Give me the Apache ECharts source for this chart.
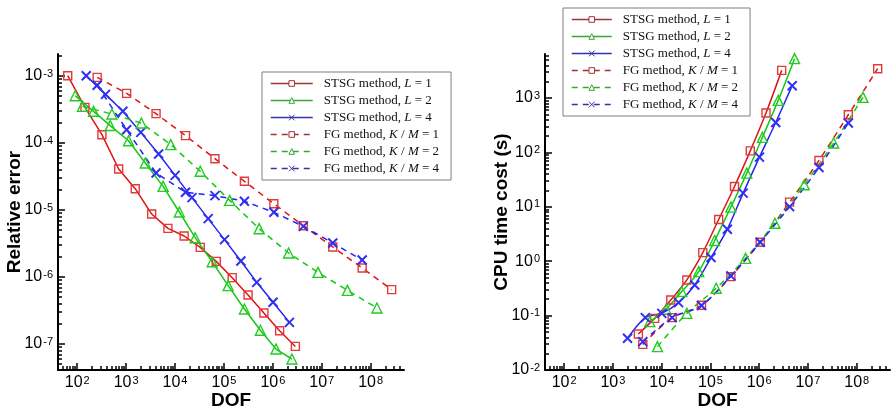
<!DOCTYPE html>
<html><head><meta charset="utf-8">
<script src="https://cdn.jsdelivr.net/npm/echarts@6/dist/echarts.min.js"></script>
<style>html,body{margin:0;padding:0;background:#fff}#c{width:891px;height:409px}</style>
</head><body><div id="c"></div>
<script>
// ---- data ----
const seriesNames = ['STSG method, L = 1','STSG method, L = 2','STSG method, L = 4','FG method, K / M = 1','FG method, K / M = 2','FG method, K / M = 4'];

const dofS1 = [64, 144, 320, 704, 1536, 3328, 7168, 15360, 32768, 69632, 147456, 311296, 655360, 1376256, 2883584];
const errS1 = [1.01e-3, 3.4e-4, 1.33e-4, 4.09e-5, 2.08e-5, 8.7e-6, 5.32e-6, 4.09e-6, 2.77e-6, 1.71e-6, 9.77e-7, 5.38e-7, 2.9e-7, 1.58e-7, 9.2e-8];
const timeS1 = [null, null, null, null, null, 0.046, 0.089, 0.194, 0.453, 1.44, 5.85, 23.7, 107, 530, 3230];

const dofS2 = [91, 216, 473, 1122, 2460, 5700, 12250, 25800, 57500, 122000, 262000, 556000, 1160000, 2450000, 5300000];
const errS2 = [5.08e-4, 2.97e-4, 1.82e-4, 1.08e-4, 5.03e-5, 2.25e-5, 9.33e-6, 3.86e-6, 1.69e-6, 7.43e-7, 3.33e-7, 1.6e-7, 8.4e-8, 5.97e-8, null];
const timeS2 = [null, null, null, null, null, 0.0776, 0.131, 0.277, 0.645, 2.40, 9.86, 41.7, 189, 906, 5300];

const dofS4 = [153, 379, 859, 1995, 4620, 10050, 22200, 47600, 102800, 222000, 468000, 1010000, 2180000, 4740000];
const errS4 = [1.01e-3, 5.32e-4, 2.97e-4, 1.44e-4, 6.85e-5, 3.29e-5, 1.53e-5, 7.43e-6, 3.61e-6, 1.73e-6, 8.32e-7, 4.19e-7, 2.1e-7, null];
const timeS4 = [null, null, null, 0.0383, 0.0918, 0.110, 0.173, 0.366, 1.17, 3.88, 17.9, 82, 356, 1690];

const dofF1 = [256, 1024, 4096, 16384, 65536, 262144, 1048576, 4194304, 16777216, 67108864, 268435456];
const errF1 = [9.55e-4, 5.51e-4, 2.74e-4, 1.29e-4, 5.83e-5, 2.68e-5, 1.24e-5, 5.83e-6, 2.81e-6, 1.36e-6, 6.47e-7];
const timeF1 = [null, null, 0.0296, 0.0918, 0.155, 0.522, 2.24, 12.2, 71.3, 493, 3470];

const dofF2 = [128, 512, 2048, 8192, 32768, 131072, 524288, 2097152, 8388608, 33554432, 134217728];
const errF2 = [3.52e-4, 2.71e-4, 1.99e-4, 9.44e-5, 3.78e-5, 1.39e-5, 5.26e-6, 2.28e-6, 1.17e-6, 6.32e-7, 3.44e-7];
const timeF2 = [null, null, null, 0.0269, 0.110, 0.318, 1.13, 5.0, 25.4, 149, 1030];

const dofF4 = [256, 1024, 4096, 16384, 65536, 262144, 1048576, 4194304, 16777216, 67108864];
const errF4 = [7.26e-4, 1.58e-4, 3.56e-5, 1.84e-5, 1.64e-5, 1.35e-5, 9.23e-6, 5.70e-6, 3.21e-6, 1.79e-6];
const timeF4 = [null, null, 0.0332, 0.0918, 0.153, 0.537, 2.24, 10.1, 53, 347];

// tick labels
const dofTicks = [1e2, 1e3, 1e4, 1e5, 1e6, 1e7, 1e8];
const errTicks = [1e-7, 1e-6, 1e-5, 1e-4, 1e-3];
const timeTicks = [1e-2, 1e-1, 1e0, 1e1, 1e2, 1e3];

function minorTicks(lo, hi) {
  const out = [];
  for (let e = lo; e <= hi; e++) for (let k = 2; k <= 9; k++) out.push(+(k * Math.pow(10, e)).toPrecision(3));
  return out;
}

const FONT = 'Liberation Sans';
const SERIF = 'Liberation Serif';
const RED = '#dd1414', GREEN = '#14c814', BLUE = '#2424ee';
const RED_M = '#e03a3a', GREEN_M = '#22cc22', BLUE_M = '#3030f0';
const XPATH = 'path://M0,0L10,10M10,0L0,10';

const supRich = {
  b: {fontSize: 16, fontFamily: FONT, color: '#000'},
  s: {fontSize: 11, fontFamily: FONT, color: '#000', verticalAlign: 'top', padding: [0, 0, 0, 1]}
};
function expLabel(v) {
  const e = Math.round(Math.log10(v));
  return '{b|10}{s|' + e + '}';
}

function mainAxis(gi, min, max, labels, isX, name, nameGap) {
  return {
    type: 'log', logBase: 10, gridIndex: gi, min: min, max: max,
    position: isX ? 'bottom' : 'left',
    axisLine: {show: true, lineStyle: {color: '#000', width: 2}},
    axisTick: {show: true, inside: true, length: 7, customValues: labels, lineStyle: {color: '#000', width: 1.5}},
    axisLabel: {customValues: labels, formatter: expLabel, rich: supRich, margin: 5, color: '#000'},
    splitLine: {show: false}, minorTick: {show: false}, minorSplitLine: {show: false},
    name: name, nameLocation: 'middle', nameGap: nameGap, nameMoveOverlap: false,
    nameTextStyle: {fontFamily: FONT, fontWeight: 'bold', fontSize: 19, color: '#000'}
  };
}
function minorAxis(gi, min, max, minors, isX) {
  return {
    type: 'log', logBase: 10, gridIndex: gi, min: min, max: max,
    position: isX ? 'bottom' : 'left',
    axisLine: {show: false},
    axisTick: {show: true, inside: true, length: 4, customValues: minors, lineStyle: {color: '#000', width: 1.5}},
    axisLabel: {show: false},
    splitLine: {show: false}
  };
}

const xMin = 40.5, xMax = 4.8e8;
const errMin = 4.09e-8, errMax = 2.13e-3;
const tMin = 1e-2, tMax = 6460;

const styles = [
  {color: RED, mc: RED_M, sym: 'rect', size: 8, dash: 'solid', lc: '#a03434'},
  {color: GREEN, mc: GREEN_M, sym: 'triangle', size: 10, dash: 'solid', lc: '#34a834'},
  {color: BLUE, mc: BLUE_M, sym: XPATH, size: 9, dash: 'solid', lc: '#3434a8'},
  {color: RED, mc: RED_M, sym: 'rect', size: 8, dash: [6, 5], lc: '#a03434'},
  {color: GREEN, mc: GREEN_M, sym: 'triangle', size: 10, dash: [6, 5], lc: '#34a834'},
  {color: BLUE, mc: BLUE_M, sym: XPATH, size: 9, dash: [6, 5], lc: '#3434a8'}
];
const dofs = [dofS1, dofS2, dofS4, dofF1, dofF2, dofF4];
const errs = [errS1, errS2, errS4, errF1, errF2, errF4];
const times = [timeS1, timeS2, timeS4, timeF1, timeF2, timeF4];

function pairs(xs, ys) {
  const out = [];
  xs.forEach((x, i) => { if (ys[i] != null) out.push([x, ys[i]]); });
  return out;
}

const series = [];
[0, 1].forEach(chart => {
  styles.forEach((st, k) => {
    const isX = k % 3 === 2;
    series.push({
      name: seriesNames[k], type: 'line',
      xAxisIndex: chart * 2, yAxisIndex: chart * 2,
      data: pairs(dofs[k], chart === 0 ? errs[k] : times[k]),
      smooth: chart === 1 ? 0.3 : false,
      symbol: st.sym, symbolSize: st.size, showAllSymbol: true,
      lineStyle: {color: st.color, width: 1.5, type: st.dash},
      itemStyle: {color: 'rgba(255,255,255,0)', borderColor: st.mc, borderWidth: isX ? 2 : 1.4},
      emphasis: {disabled: true}, animation: false, clip: true, z: 3
    });
  });
});

function legendFmt(name) {
  if (name.indexOf('STSG') === 0) return 'STSG method, {i|L} = ' + name.slice(-1);
  return 'FG method, {i|K} / {i|M} = ' + name.slice(-1);
}
function legendData() {
  return styles.map((st, k) => ({
    name: seriesNames[k],
    lineStyle: {color: st.lc, width: 1.5, type: st.dash},
    itemStyle: {color: '#fff', borderColor: st.lc, borderWidth: 1}
  }));
}
function legend(left, top, iw) {
  return {
    left: left, top: top, orient: 'vertical', data: legendData(),
    itemWidth: iw, itemHeight: 7, itemGap: 0,
    padding: [3, 12, 3, 8],
    borderColor: '#7f7f7f', borderWidth: 1, backgroundColor: '#fff',
    selectedMode: false, formatter: legendFmt,
    textStyle: {fontFamily: SERIF, fontSize: 13, color: '#111', lineHeight: 17, padding: [0, 0, 0, 6],
      rich: {i: {fontFamily: SERIF, fontSize: 13, fontStyle: 'italic', color: '#111', lineHeight: 17}}}
  };
}

const option = {
  backgroundColor: '#fff',
  animation: false,
  grid: [
    {left: 58, top: 54, width: 346, height: 316, containLabel: false, outerBoundsMode: 'none'},
    {left: 545, top: 54, width: 345, height: 316, containLabel: false, outerBoundsMode: 'none'}
  ],
  xAxis: [
    mainAxis(0, xMin, xMax, dofTicks, true, 'DOF', 21),
    minorAxis(0, xMin, xMax, minorTicks(1, 8), true),
    mainAxis(1, xMin, xMax, dofTicks, true, 'DOF', 21),
    minorAxis(1, xMin, xMax, minorTicks(1, 8), true)
  ],
  yAxis: [
    mainAxis(0, errMin, errMax, errTicks, false, 'Relative error', 34),
    minorAxis(0, errMin, errMax, minorTicks(-8, -3), false),
    mainAxis(1, tMin, tMax, timeTicks, false, 'CPU time cost (s)', 34),
    minorAxis(1, tMin, tMax, minorTicks(-2, 3), false)
  ],
  legend: [legend(262, 72, 42), legend(563, 8, 40)],
  series: series
};

const chart = echarts.init(document.getElementById('c'), null, {renderer: 'canvas'});
chart.setOption(option);
</script>
</body></html>
